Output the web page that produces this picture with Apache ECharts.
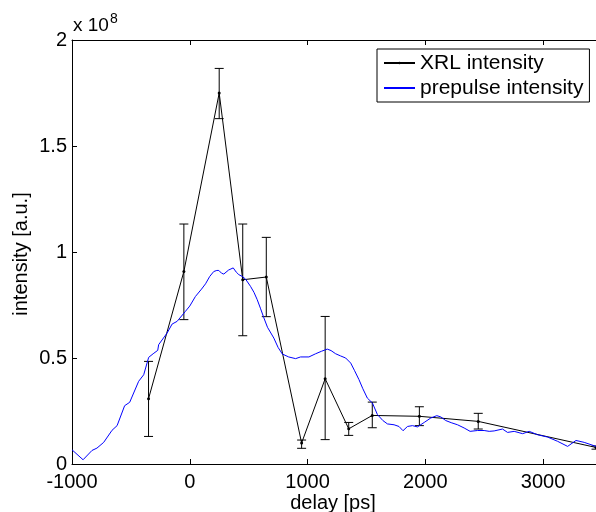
<!DOCTYPE html>
<html>
<head>
<meta charset="utf-8">
<script src="https://cdn.jsdelivr.net/npm/echarts@6/dist/echarts.min.js"></script>
<style>html,body{margin:0;padding:0;background:#fff}#c{width:596px;height:512px}</style>
</head>
<body>
<div id="c"></div>
<script>
// XRL intensity (units of 1e8)
const xrlDelay = [-350, -50, 250, 450, 650, 950, 1150, 1350, 1550, 1950, 2450, 3450];
const xrlValue = [0.308, 0.908, 1.75, 0.869, 0.882, 0.099, 0.402, 0.166, 0.229, 0.225, 0.201, 0.078];
const xrlLow   = [0.130, 0.681, 1.629, 0.605, 0.695, 0.074, 0.115, 0.135, 0.171, 0.181, 0.165, 0.070];
const xrlHigh  = [0.484, 1.132, 1.866, 1.132, 1.069, 0.113, 0.696, 0.196, 0.292, 0.270, 0.239, 0.085];

// prepulse intensity (units of 1e8)
const preDelay = [-1000, -906, -830, -788, -731, -660, -617, -553, -510, -434, -391, -349, -311, -272, -264, -192, -150, -107, -37, 0, 48, 100, 134, 170, 204, 230, 247, 270, 289, 330, 369, 395, 417, 445, 474, 516, 545, 573, 600, 629, 660, 714, 750, 786, 840, 899, 941, 1012, 1069, 1120, 1168, 1200, 1239, 1280, 1324, 1367, 1400, 1437, 1470, 1508, 1551, 1594, 1640, 1679, 1735, 1777, 1811, 1849, 1891, 1934, 1991, 2047, 2098, 2132, 2174, 2220, 2274, 2330, 2381, 2444, 2500, 2543, 2585, 2656, 2699, 2755, 2827, 2883, 2954, 3039, 3124, 3209, 3280, 3350, 3450];
const preValue = [0.067, 0.020, 0.064, 0.075, 0.102, 0.159, 0.181, 0.275, 0.291, 0.390, 0.421, 0.503, 0.520, 0.536, 0.563, 0.618, 0.660, 0.673, 0.720, 0.745, 0.790, 0.825, 0.850, 0.885, 0.908, 0.913, 0.913, 0.900, 0.896, 0.915, 0.925, 0.905, 0.893, 0.885, 0.872, 0.838, 0.810, 0.775, 0.735, 0.690, 0.645, 0.594, 0.550, 0.519, 0.505, 0.497, 0.505, 0.505, 0.520, 0.532, 0.542, 0.535, 0.520, 0.510, 0.500, 0.476, 0.440, 0.398, 0.355, 0.311, 0.288, 0.233, 0.205, 0.189, 0.185, 0.177, 0.157, 0.177, 0.181, 0.175, 0.196, 0.217, 0.228, 0.222, 0.205, 0.195, 0.185, 0.170, 0.154, 0.158, 0.158, 0.154, 0.156, 0.165, 0.149, 0.154, 0.143, 0.154, 0.138, 0.127, 0.107, 0.083, 0.111, 0.102, 0.083];

const yTicks = ['0', '0.5', '1', '1.5', '2'];
const FONT = 'Liberation Sans, Arial, Helvetica, sans-serif';

const chart = echarts.init(document.getElementById('c'), null, {renderer: 'canvas'});

const xrlData = xrlDelay.map((d, i) => [d, xrlValue[i]]);
const errData = xrlDelay.map((d, i) => [d, xrlLow[i], xrlHigh[i]]);
const preData = preDelay.map((d, i) => [d, preValue[i]]);

const axisCommon = {
  axisLine: {show: true, onZero: false, lineStyle: {color: '#000', width: 1}},
  axisTick: {show: true, inside: true, length: 5, lineStyle: {color: '#000'}},
  splitLine: {show: false}
};

chart.setOption({
  animation: false,
  grid: {left: 72, top: 40, right: 0, bottom: 48, show: false},
  legend: {
    orient: 'vertical', left: 377, top: 49,
    padding: [3, 6, 3, 6], itemGap: 3, itemWidth: 31, itemHeight: 3,
    borderColor: '#000', borderWidth: 1, backgroundColor: '#fff', borderRadius: 0,
    textStyle: {fontFamily: FONT, fontSize: 21, color: '#000', lineHeight: 22},
    data: [{name: 'XRL intensity'}, {name: 'prepulse intensity', itemStyle: {opacity: 0}}]
  },
  xAxis: [Object.assign({
    type: 'value', min: -1000, max: 3450, interval: 1000,
    axisLabel: {fontFamily: FONT, fontSize: 20, color: '#000', margin: 8, showMaxLabel: false,
      formatter: (v) => String(v)}
  }, axisCommon), Object.assign({
    type: 'value', position: 'top', min: -1000, max: 3450, interval: 1000,
    axisLabel: {show: false}
  }, axisCommon)],
  yAxis: [Object.assign({
    type: 'value', min: 0, max: 2, interval: 0.5,
    axisLabel: {fontFamily: FONT, fontSize: 20, color: '#000', margin: 5,
      formatter: (v) => yTicks[Math.round(v / 0.5)]}
  }, axisCommon)],
  graphic: [
    {type: 'text', x: 73, y: 35, style: {text: 'x 10', fontFamily: FONT, fontSize: 19, fill: '#000',
      textAlign: 'left', textVerticalAlign: 'bottom'}},
    {type: 'text', x: 110, y: 26, style: {text: '8', fontFamily: FONT, fontSize: 14, fill: '#000',
      textAlign: 'left', textVerticalAlign: 'bottom'}},
    {type: 'text', x: 333, y: 503, style: {text: 'delay [ps]', fontFamily: FONT, fontSize: 20,
      fill: '#000', textAlign: 'center', textVerticalAlign: 'middle'}},
    {type: 'text', x: 21, y: 254, rotation: Math.PI / 2, style: {text: 'intensity [a.u.]', fontFamily: FONT,
      fontSize: 20, fill: '#000', textAlign: 'center', textVerticalAlign: 'middle'}}
  ],
  series: [
    {
      name: 'XRL intensity', type: 'line', data: xrlData,
      symbol: 'circle', symbolSize: 3, showSymbol: true,
      itemStyle: {color: '#000'}, lineStyle: {color: '#000', width: 1}, z: 2
    },
    {
      name: 'XRL err', type: 'custom', data: errData, z: 2,
      renderItem: function (params, api) {
        const x = api.value(0), lo = api.value(1), hi = api.value(2);
        const p1 = api.coord([x, hi]), p2 = api.coord([x, lo]);
        const w = 4.5;
        const st = {stroke: '#000', lineWidth: 1};
        return {type: 'group', children: [
          {type: 'line', shape: {x1: p1[0], y1: p1[1], x2: p2[0], y2: p2[1]}, style: st},
          {type: 'line', shape: {x1: p1[0] - w, y1: p1[1], x2: p1[0] + w, y2: p1[1]}, style: st},
          {type: 'line', shape: {x1: p2[0] - w, y1: p2[1], x2: p2[0] + w, y2: p2[1]}, style: st}
        ]};
      }
    },
    {
      name: 'prepulse intensity', type: 'line', data: preData,
      symbol: 'none', showSymbol: false,
      itemStyle: {color: '#0000ff'}, lineStyle: {color: '#0000ff', width: 1}, z: 3
    }
  ]
});
</script>
</body>
</html>
